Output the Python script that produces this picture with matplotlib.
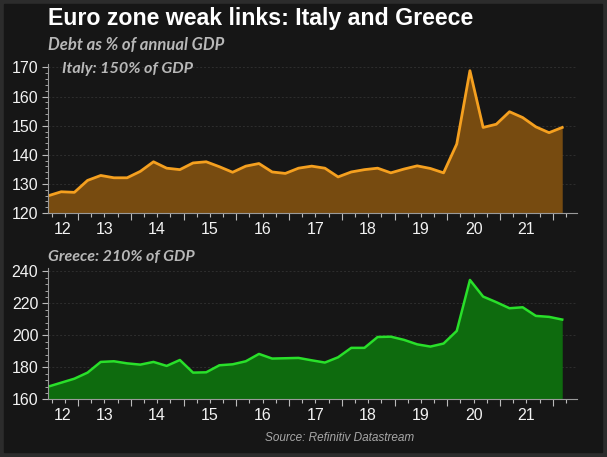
import matplotlib.pyplot as plt
import numpy as np
from matplotlib.ticker import MultipleLocator

# quarterly debt-to-GDP, %
italy = [125.9, 127.3, 127.1, 131.2, 132.9, 132.1, 132.1, 134.3, 137.6, 135.4,
         134.9, 137.2, 137.6, 135.9, 134.0, 136.1, 137.0, 134.1, 133.6, 135.4,
         136.1, 135.4, 132.4, 134.1, 134.9, 135.4, 133.8, 135.1, 136.2, 135.3,
         133.8, 143.7, 168.9, 149.4, 150.5, 154.8, 152.8, 149.6, 147.6, 149.4]
greece = [167.9, 170.4, 172.9, 176.7, 183.4, 183.8, 182.5, 181.7, 183.4, 180.9,
          184.6, 176.7, 176.9, 181.3, 181.9, 183.8, 188.4, 185.5, 185.7, 185.9,
          184.4, 183.0, 186.3, 192.2, 192.2, 199.0, 199.2, 197.2, 194.4, 193.0,
          194.9, 202.8, 234.7, 224.3, 220.8, 217.0, 217.6, 212.2, 211.6, 209.9]
first_quarter = 2012.43
years = [2012, 2013, 2014, 2015, 2016, 2017, 2018, 2019, 2020, 2021]
year_labels = ['12', '13', '14', '15', '16', '17', '18', '19', '20', '21']

x = first_quarter + 0.25 * np.arange(len(italy))
xmin, xmax = first_quarter, 2022.46

BG = '#161616'
fig = plt.figure(figsize=(6.07, 4.57), dpi=100, facecolor='#2c2c2c')
fig.patches.append(plt.Rectangle((4 / 607, 5 / 457), 598 / 607, 448 / 457,
                                 transform=fig.transFigure, color=BG, zorder=-10))

ax1 = fig.add_axes([48 / 607, 1 - 213 / 457, 529 / 607, 149 / 457])
ax2 = fig.add_axes([48 / 607, 1 - 399.3 / 457, 529 / 607, 131 / 457])


def style(ax, ylo, yhi, major, minor):
    ax.set_facecolor(BG)
    ax.set_xlim(xmin, xmax)
    ax.set_ylim(ylo, yhi)
    for s in ['top', 'right']:
        ax.spines[s].set_visible(False)
    for s in ['left', 'bottom']:
        ax.spines[s].set_color('#9a9a9a')
        ax.spines[s].set_linewidth(0.8)
    ax.yaxis.set_major_locator(MultipleLocator(major))
    ax.yaxis.set_minor_locator(MultipleLocator(minor))
    ax.set_xticks(np.arange(2013, 2023))
    ax.set_xticks(np.arange(2012.5, 2022.5, 0.25), minor=True)
    ax.set_xticklabels([])
    ax.tick_params(axis='x', which='major', length=5, color='#bbbbbb', width=0.8)
    ax.tick_params(axis='x', which='minor', length=3, color='#bbbbbb', width=0.8)
    ax.tick_params(axis='y', which='major', length=4, color='#bbbbbb', width=0.8,
                   labelsize=11.5, labelcolor='#f2f2f2', pad=3)
    ax.tick_params(axis='y', which='minor', length=2, color='#bbbbbb', width=0.6)
    for lab in ax.get_yticklabels():
        lab.set_family('Liberation Sans')
    ax.grid(axis='y', which='major', color='#2e2e2e', linestyle=(0, (2, 2)),
            linewidth=0.7)
    ax.set_axisbelow(True)
    # year labels centred under each (visible) year
    for yr, lab in zip(years, year_labels):
        lo, hi = max(yr, xmin), min(yr + 1, xmax)
        ax.annotate(lab, ((lo + hi) / 2, 0), xycoords=('data', 'axes fraction'),
                    xytext=(0, -16), textcoords='offset pixels',
                    ha='center', va='center', color='#f2f2f2', fontsize=11.5,
                    family='Liberation Sans')


style(ax1, 120, 171.2, 10, 2)
ax1.fill_between(x, italy, 120, color='#774b10', lw=0)
ax1.plot(x, italy, color='#f5a01f', lw=2)

style(ax2, 160, 242, 20, 4)
ax2.fill_between(x, greece, 160, color='#0e6b0e', lw=0)
ax2.plot(x, greece, color='#29e02a', lw=1.8)

lbl = dict(color='#b8b8b8', family='Lato', weight='bold', style='italic')
fig.text(48 / 607, 1 - 18 / 457, 'Euro zone weak links: Italy and Greece',
         color='white', fontsize=16.7, weight='bold', family='Liberation Sans',
         va='center', ha='left')
fig.text(48 / 607, 1 - 45 / 457, 'Debt as % of annual GDP', va='center',
         fontsize=12, **lbl)
fig.text(62 / 607, 1 - 69 / 457, 'Italy: 150% of GDP', va='center',
         fontsize=11.6, zorder=5, **lbl)
fig.text(48 / 607, 1 - 257 / 457, 'Greece: 210% of GDP', va='center',
         fontsize=11.5, **lbl)
fig.text(265 / 607, 1 - 438 / 457, 'Source: Refinitiv Datastream', color='#a8a8a8',
         fontsize=8.5, style='italic', family='Liberation Sans', va='center')

fig.savefig('out.png', dpi=100, facecolor=fig.get_facecolor())
